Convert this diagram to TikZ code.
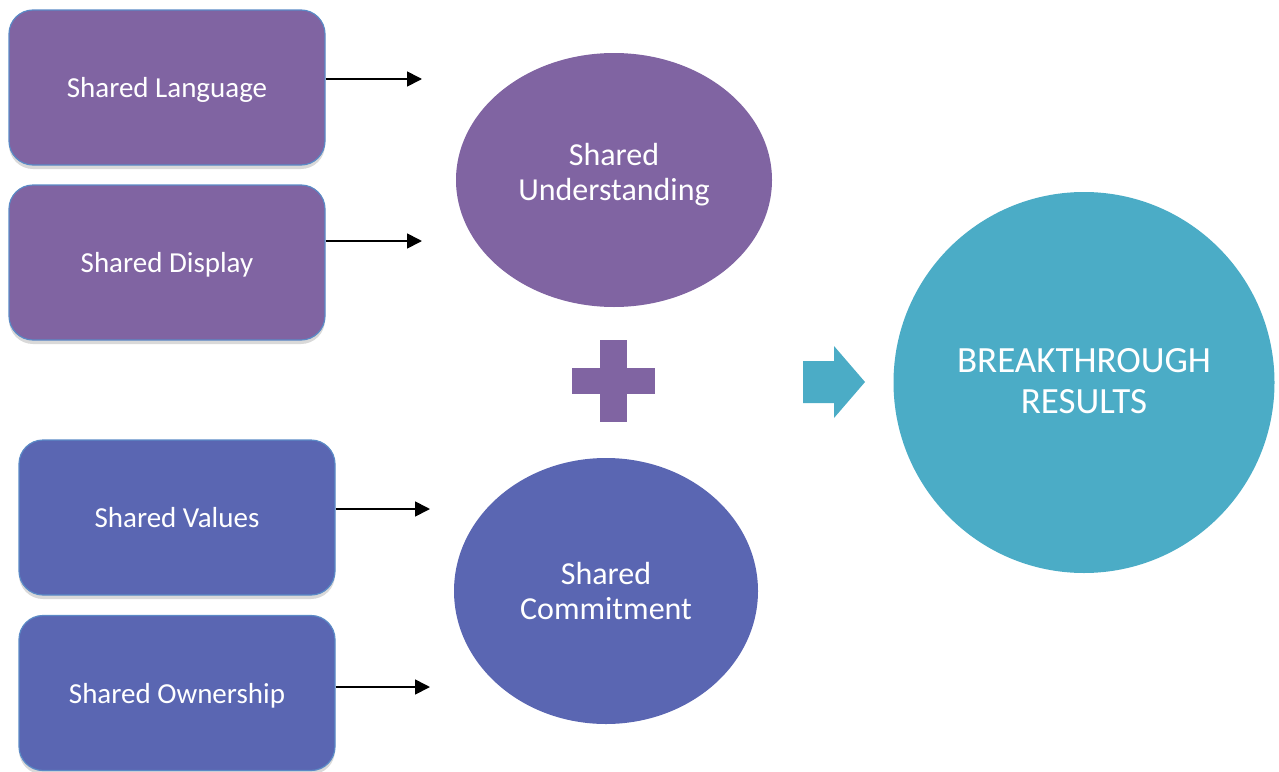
\documentclass[tikz,border=0pt]{standalone}
\usepackage{fontspec}
\setmainfont{Carlito}
\usetikzlibrary{shadows,arrows.meta}
\definecolor{cpurple}{HTML}{8064A2}
\definecolor{cblue}{HTML}{5A66B2}
\definecolor{cteal}{HTML}{4BACC6}
\definecolor{cborder}{HTML}{5B8AC6}
\begin{document}
\begin{tikzpicture}[x=1pt,y=-1pt,
  box/.style={draw=cborder, line width=1.2pt, rounded corners=24pt, minimum width=316pt, minimum height=155pt, text=white, text depth=0pt, font=\fontsize{29}{34}\selectfont, drop shadow={shadow xshift=0pt, shadow yshift=-4pt, opacity=0.25, fill=black!60}},
  conn/.style={-{Triangle[length=15pt,width=15pt]}, line width=1.7pt},
  blob/.style={text=white, align=center, inner sep=0pt},
]
\useasboundingbox (0,0) rectangle (1279,771);
\node[box, fill=cpurple] (b1) at (167,87.5) {Shared Language};
\node[box, fill=cpurple] (b2) at (167,262.5) {Shared Display};
\node[box, fill=cblue] (b3) at (177,517.5) {Shared Values};
\node[box, fill=cblue] (b4) at (177,693) {Shared Ownership};
\fill[cpurple] (614,180) ellipse [x radius=158, y radius=127];
\node[blob, font=\fontsize{32}{35}\selectfont] (u) at (614,175) {Shared\\Understanding};
\fill[cblue] (606,591) ellipse [x radius=152, y radius=133];
\node[blob, font=\fontsize{32}{35}\selectfont] (c) at (606,591) {Shared\\Commitment};
\fill[cteal] (1084,382.5) circle [radius=190.5];
\node[blob, font=\fontsize{37}{41}\selectfont] (r) at (1084,381) {BREAKTHROUGH\\RESULTS};
\coordinate (a1) at (422,79);
\coordinate (a2) at (422,241);
\coordinate (a3) at (430,509);
\coordinate (a4) at (430,687);
\draw[conn] (b1.east |- a1) -- (a1);
\draw[conn] (b2.east |- a2) -- (a2);
\draw[conn] (b3.east |- a3) -- (a3);
\draw[conn] (b4.east |- a4) -- (a4);
% plus sign
\fill[cpurple] (600,340) rectangle (627,422);
\fill[cpurple] (572,368) rectangle (655,394);
% block arrow
\fill[cteal] (803,361) -- (834,361) -- (834,346) -- (865,382) -- (834,418) -- (834,403) -- (803,403) -- cycle;
\end{tikzpicture}
\end{document}
